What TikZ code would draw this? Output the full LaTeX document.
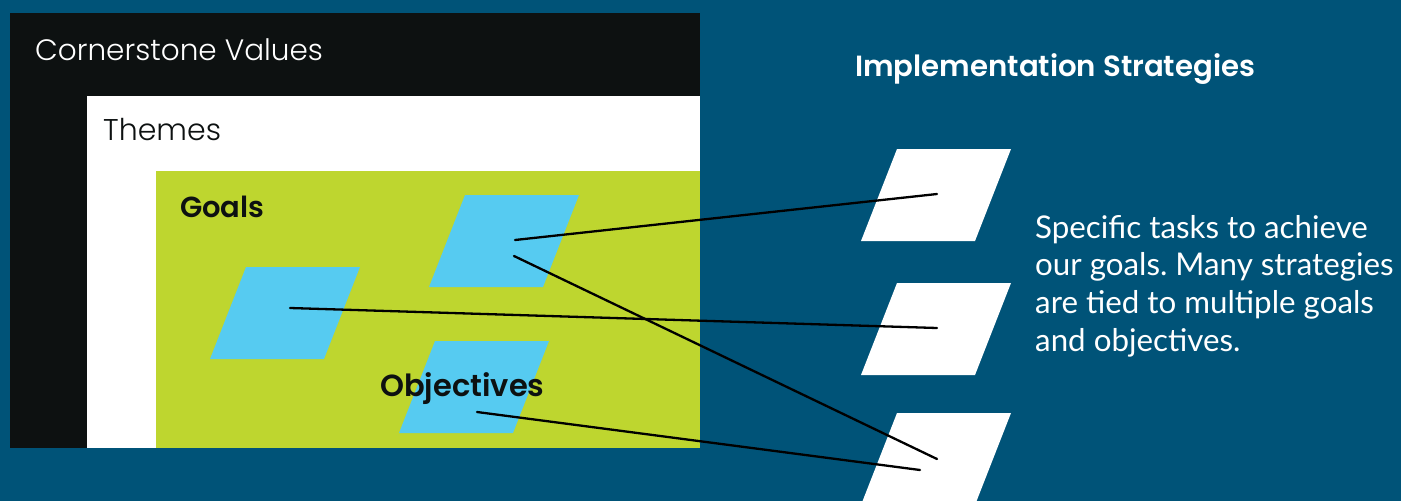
\documentclass[tikz,border=0pt]{standalone}
\usepackage{fontspec}
\setmainfont{Lato}
\newfontfamily\thinface{Poppins Light}
\newfontfamily\heavyface{Poppins SemiBold}
\frenchspacing

\definecolor{bgblue}{RGB}{0,83,120}
\definecolor{ink}{RGB}{13,17,17}
\definecolor{lime}{RGB}{190,214,47}
\definecolor{sky}{RGB}{86,203,241}

\tikzset{
  label text/.style={inner sep=0pt, anchor=base west},
  link/.style={draw=black, line width=2.3pt, line cap=round},
}
% parallelogram card: #1 fill, #2 x of lower-left corner, #3 y of top edge
\newcommand\card[3]{%
  \fill[#1] (#2+36,#3) -- (#2+150,#3) -- (#2+114,#3+92) -- (#2,#3+92) -- cycle;}

\begin{document}
\begin{tikzpicture}[x=1pt,y=-1pt]
  \fill[bgblue] (0,0) rectangle (1401,501);
  \useasboundingbox (0,0) rectangle (1401,501);

  % nested frames
  \fill[ink]   (10,13)  rectangle (700,448);
  \fill[white] (87,96)  rectangle (700,448);
  \fill[lime]  (156,171) rectangle (700,448);

  % goal and objective cards
  \card{sky}{429}{195}
  \card{sky}{210}{267}
  \card{sky}{399}{341}

  % strategy cards
  \card{white}{861}{149}
  \card{white}{861}{283}
  \card{white}{861}{413}

  % titles
  \node[label text, text=white, font={\thinface\fontsize{29.5}{34}\selectfont}]
    (cv) at (35,60) {Cornerstone Values};
  \node[label text, text=ink, font={\thinface\fontsize{30}{34}\selectfont}]
    (th) at (103,140) {Themes};
  \node[label text, text=ink, font={\heavyface\fontsize{29}{34}\selectfont}]
    (go) at (180,217) {Goals};
  \node[label text, text=ink, font={\heavyface\fontsize{30.5}{34}\selectfont}]
    (ob) at (380,396) {Objectives};
  \node[label text, text=white, font={\heavyface\fontsize{29.2}{34}\selectfont}]
    (is) at (855,76) {Implementation Strategies};
  \node[inner sep=0pt, anchor=north west, text=white, align=left,
        font={\fontsize{31.3}{37.7}\selectfont}]
    (desc) at (1035,215)
    {Specific tasks to achieve\\
     our goals. Many strategies\\
     are tied to multiple goals\\
     and objectives.};

  % link end points
  \coordinate (ga) at (515,240);
  \coordinate (gb) at (514,256);
  \coordinate (gl) at (290,308);
  \coordinate (oc) at (477,412);
  \coordinate (s1) at (937,194);
  \coordinate (s2) at (937,328);
  \coordinate (s3) at (937,459);
  \coordinate (s3b) at (920,470);

  % links between cards
  \draw[link] (ga) -- (s1);
  \draw[link] (gl) -- (s2);
  \draw[link] (gb) -- (s3);
  \draw[link] (oc) -- (s3b);
\end{tikzpicture}
\end{document}
